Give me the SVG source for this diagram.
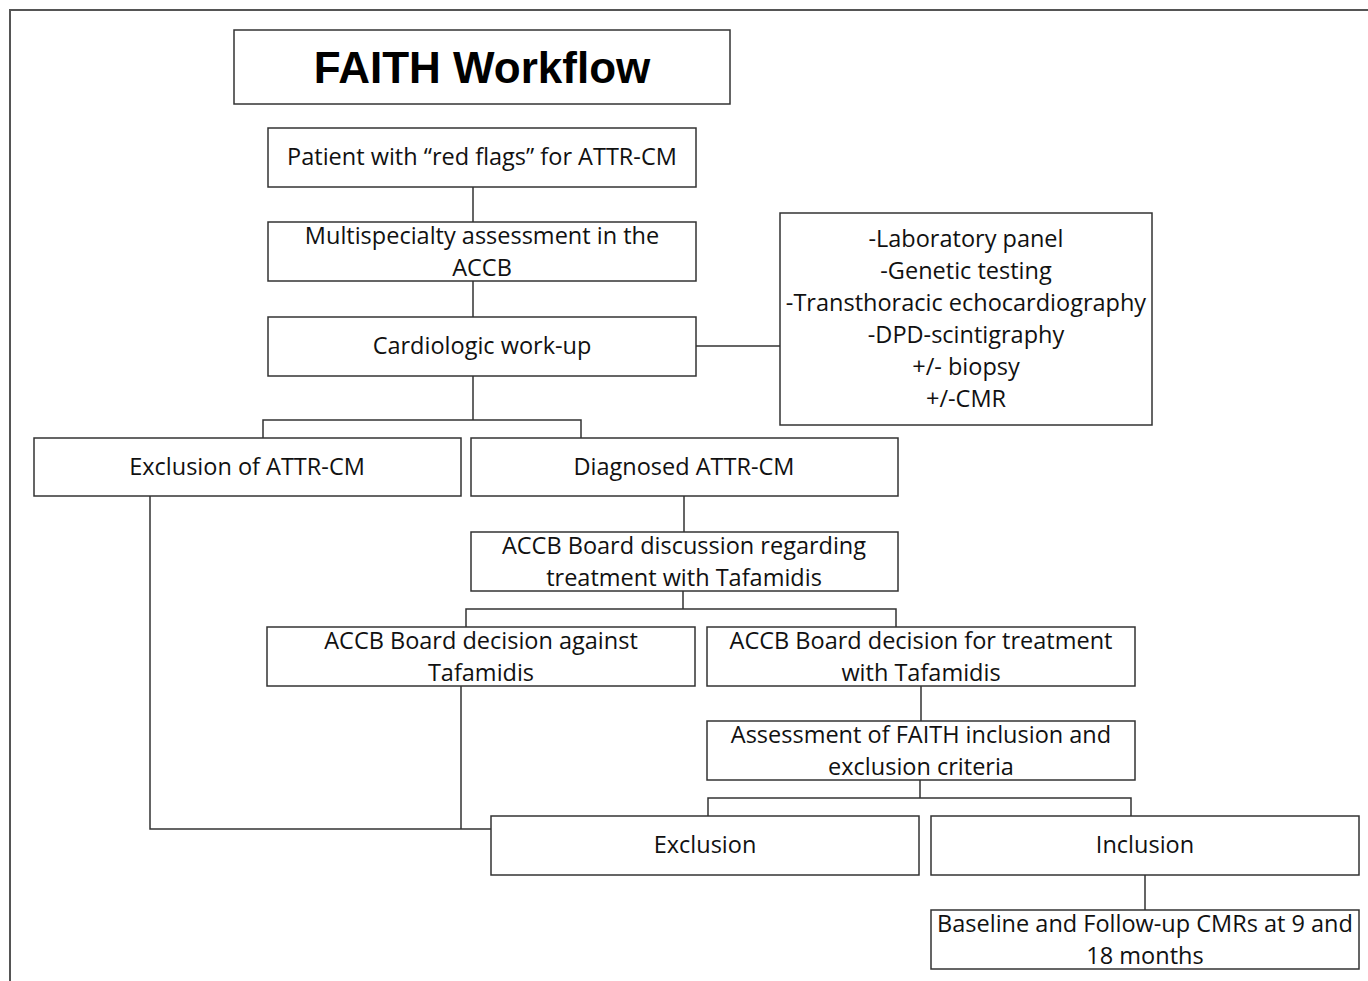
<svg xmlns="http://www.w3.org/2000/svg" width="1368" height="981" viewBox="0 0 1368 981">
<style>
.b{fill:#fff;stroke:#333;stroke-width:1.5}
.t{font-family:"Open Sans","Liberation Sans",Arial,sans-serif;font-size:23.5px;fill:#111;text-anchor:middle}
.c{fill:none;stroke:#333;stroke-width:1.5}
</style>
<rect width="1368" height="981" fill="#fff"/>
<path d="M10,981 V10 H1368" fill="none" stroke="#555" stroke-width="2"/>
<g id="connectors">
<path class="c" d="M473,187V222M473,281V317M473,376V420M263,438V420H581V438M696,346H780"/>
<path class="c" d="M684,496V532M683,591V609M466,627V609H896V627"/>
<path class="c" d="M921,686V721M920,780V798M708,816V798H1131V816M1145,875V910"/>
<path class="c" d="M150,496V829H491M461,686V829"/>
</g>
<g id="title"><rect class="b" x="234" y="30" width="496" height="74"/><text x="482" y="83" style="font-family:'Liberation Sans',Arial,sans-serif;font-size:44px;font-weight:bold;text-anchor:middle;fill:#000">FAITH Workflow</text></g>
<g id="patient"><rect class="b" x="268" y="128" width="428" height="59"/><text class="t" x="482" y="165">Patient with “red flags” for ATTR-CM</text></g>
<g id="multispecialty"><rect class="b" x="268" y="222" width="428" height="59"/><text class="t" x="482" y="244">Multispecialty assessment in the</text><text class="t" x="482" y="276">ACCB</text></g>
<g id="cardiologic"><rect class="b" x="268" y="317" width="428" height="59"/><text class="t" x="482" y="354">Cardiologic work-up</text></g>
<g id="workup-list"><rect class="b" x="780" y="213" width="372" height="212"/>
<text class="t" x="966" y="247">-Laboratory panel</text>
<text class="t" x="966" y="279">-Genetic testing</text>
<text class="t" x="966" y="311">-Transthoracic echocardiography</text>
<text class="t" x="966" y="343">-DPD-scintigraphy</text>
<text class="t" x="966" y="375">+/- biopsy</text>
<text class="t" x="966" y="407">+/-CMR</text></g>
<g id="exclusion-attr"><rect class="b" x="34" y="438" width="427" height="58"/><text class="t" x="247" y="475">Exclusion of ATTR-CM</text></g>
<g id="diagnosed"><rect class="b" x="471" y="438" width="427" height="58"/><text class="t" x="684" y="475">Diagnosed ATTR-CM</text></g>
<g id="board-discussion"><rect class="b" x="471" y="532" width="427" height="59"/><text class="t" x="684" y="554">ACCB Board discussion regarding</text><text class="t" x="684" y="586">treatment with Tafamidis</text></g>
<g id="against"><rect class="b" x="267" y="627" width="428" height="59"/><text class="t" x="481" y="649">ACCB Board decision against</text><text class="t" x="481" y="681">Tafamidis</text></g>
<g id="for"><rect class="b" x="707" y="627" width="428" height="59"/><text class="t" x="921" y="649">ACCB Board decision for treatment</text><text class="t" x="921" y="681">with Tafamidis</text></g>
<g id="assessment"><rect class="b" x="707" y="721" width="428" height="59"/><text class="t" x="921" y="743">Assessment of FAITH inclusion and</text><text class="t" x="921" y="775">exclusion criteria</text></g>
<g id="exclusion"><rect class="b" x="491" y="816" width="428" height="59"/><text class="t" x="705" y="853">Exclusion</text></g>
<g id="inclusion"><rect class="b" x="931" y="816" width="428" height="59"/><text class="t" x="1145" y="853">Inclusion</text></g>
<g id="followup"><rect class="b" x="931" y="910" width="428" height="59"/><text class="t" x="1145" y="932">Baseline and Follow-up CMRs at 9 and</text><text class="t" x="1145" y="964">18 months</text></g>
</svg>
